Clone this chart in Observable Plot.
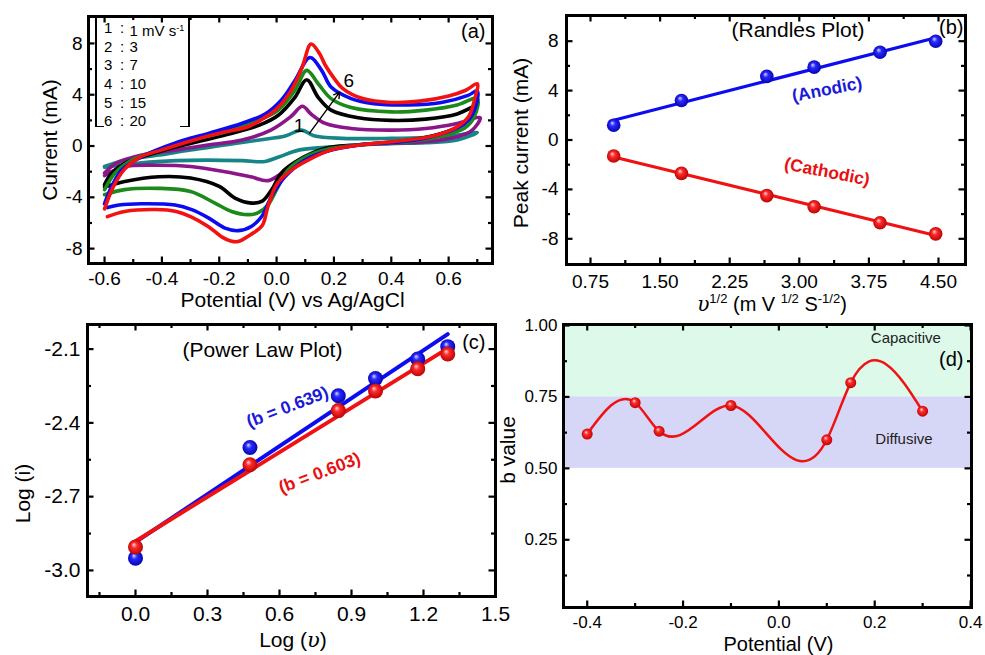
<!DOCTYPE html>
<html>
<head>
<meta charset="utf-8">
<script src="https://cdn.jsdelivr.net/npm/d3@7"></script>
<script src="https://cdn.jsdelivr.net/npm/@observablehq/plot@0.6"></script>
<style>
  html, body { margin: 0; padding: 0; background: #fff; }
  #fig { position: relative; width: 985px; height: 655px; overflow: hidden; background: #fff;
         font-family: "Liberation Sans", Arial, Helvetica, sans-serif; color: #000; }
  .panel { position: absolute; }
  .panel svg { overflow: visible; display: block; }
  .hl { position: absolute; text-align: center; white-space: nowrap; }
  .uv { font-family: "DejaVu Serif", "Liberation Serif", serif; font-style: italic; }
  .legrow { position: absolute; font-size: 15px; line-height: 16px; white-space: nowrap; }
  .legrow sup { font-size: 9px; vertical-align: 5px; }
</style>
</head>
<body>
<div id="fig"></div>
<script>
// ================= DATA =================
// (a) cyclic voltammograms: forward sweep followed by reverse sweep (V vs Ag/AgCl, mA)
const scanRates = [1, 3, 7, 10, 15, 20];            // mV s-1
const legendNumbers = ["1", "2", "3", "4", "5", "6"];

const cv1V = [-0.6,-0.53,-0.41,-0.3,-0.18,-0.06,0.03,0.087,0.13,0.23,0.4,0.52,0.63,0.7,
              0.63,0.52,0.4,0.29,0.17,0.08,0.01,-0.04,-0.12,-0.24,-0.35,-0.47,-0.6];
const cv1I = [-1.6,-1.1,-0.7,-0.3,0.08,0.47,0.78,1.24,0.8,0.6,0.6,0.67,0.85,1.05,
              0.47,0.26,0.2,0.08,-0.1,-0.3,-0.83,-1.2,-1.14,-1.1,-1.14,-1.3,-1.65];

const cv2V = [-0.6,-0.56,-0.47,-0.35,-0.24,-0.12,-0.02,0.05,0.09,0.12,0.17,0.26,0.4,0.52,0.63,0.71,
              0.68,0.63,0.52,0.4,0.29,0.17,0.08,0.02,-0.03,-0.09,-0.18,-0.3,-0.41,-0.53,-0.6];
const cv2I = [-2.1,-1.35,-0.7,-0.3,0.08,0.47,1.24,2.3,3.1,2.5,1.76,1.37,1.24,1.37,1.76,2.2,
              1.2,0.72,0.33,0.2,0.08,-0.44,-1.35,-2.1,-2.7,-2.4,-2.0,-1.6,-1.5,-1.6,-2.3];

const cv3V = [-0.6,-0.575,-0.53,-0.41,-0.3,-0.18,-0.06,0.006,0.064,0.105,0.145,0.19,0.285,0.4,0.52,0.63,0.7,
              0.697,0.656,0.575,0.46,0.285,0.168,0.076,0.017,-0.017,-0.05,-0.087,-0.145,-0.2,-0.3,-0.41,-0.53,-0.6];
const cv3I = [-3.0,-2.1,-1.35,-0.44,0.2,0.85,1.63,2.4,3.8,5.17,3.8,2.8,2.2,2.0,2.1,2.5,3.2,
              3.05,1.76,0.98,0.45,0.1,-0.2,-1.1,-2.1,-3.4,-4.3,-4.45,-4.06,-3.15,-2.5,-2.4,-2.77,-3.2];

const cv4V = [-0.6,-0.563,-0.505,-0.41,-0.3,-0.18,-0.064,0.006,0.064,0.105,0.145,0.19,0.26,0.4,0.52,0.63,0.7,
              0.69,0.656,0.575,0.46,0.285,0.168,0.1,0.04,0.0,-0.03,-0.064,-0.1,-0.157,-0.215,-0.3,-0.41,-0.53,-0.6];
const cv4I = [-3.4,-2.1,-1.1,-0.3,0.47,1.1,2.0,2.8,4.34,5.9,4.86,3.7,3.0,2.66,2.8,3.2,3.7,
              2.3,1.4,0.78,0.33,0.08,-0.3,-0.86,-1.86,-3.4,-4.6,-5.2,-5.35,-5.1,-4.45,-3.55,-3.3,-3.4,-3.8];

const cv5V = [-0.6,-0.575,-0.54,-0.47,-0.355,-0.238,-0.122,-0.04,0.017,0.064,0.116,0.157,0.19,0.26,0.34,0.46,0.575,0.668,0.7,
              0.69,0.656,0.517,0.4,0.285,0.168,0.099,0.029,-0.017,-0.052,-0.087,-0.133,-0.18,-0.238,-0.296,-0.354,-0.47,-0.55,-0.59];
const cv5I = [-4.5,-3.15,-1.86,-0.83,0.23,0.98,1.76,2.5,3.6,5.1,6.9,5.9,4.6,3.7,3.3,3.2,3.4,3.95,4.3,
              2.8,1.76,0.6,0.27,0.08,-0.44,-1.1,-2.4,-3.9,-5.5,-6.25,-6.6,-6.4,-5.6,-4.96,-4.6,-4.5,-4.6,-4.8];

const cv6V = [-0.6,-0.57,-0.53,-0.48,-0.4,-0.3,-0.2,-0.1,-0.05,0.0,0.05,0.09,0.12,0.15,0.17,0.2,0.23,0.3,0.4,0.5,0.6,0.66,0.7,
              0.69,0.67,0.63,0.58,0.52,0.4,0.29,0.19,0.11,0.05,0.0,-0.03,-0.05,-0.09,-0.135,-0.16,-0.19,-0.24,-0.3,-0.35,-0.42,-0.53,-0.59];
const cv6I = [-4.9,-3.2,-1.8,-0.9,-0.3,0.4,1.0,1.5,2.1,2.9,4.3,6.2,7.95,7.2,6.3,5.3,4.5,3.7,3.4,3.5,3.9,4.35,4.85,
              3.6,2.3,1.5,1.0,0.67,0.33,0.08,-0.3,-1.1,-1.9,-3.0,-4.7,-6.2,-6.9,-7.45,-7.4,-7.1,-6.25,-5.5,-5.1,-4.95,-5.1,-5.5];

// arrow "1 -> 6" annotation (data coordinates) and its end labels
const cvArrowFrom = [0.115, 1.0];
const cvArrowTo = [0.22, 4.2];
const cvArrowText = ["1", "6"];
const cvArrowTextV = [0.078, 0.252];
const cvArrowTextI = [1.6, 5.05];

// (b) Randles plot
const sqrtScanRate = [1.0, 1.73, 2.65, 3.16, 3.87, 4.47];
const anodicPeak = [1.2, 3.2, 5.15, 5.9, 7.1, 8.0];
const cathodicPeak = [-1.3, -2.7, -4.5, -5.4, -6.7, -7.6];

// (c) power law plot
const logScanRate = [0, 0.477, 0.845, 1.0, 1.176, 1.301];
const logAnodic = [-2.95, -2.50, -2.29, -2.22, -2.14, -2.09];
const logCathodic = [-2.905, -2.57, -2.35, -2.27, -2.18, -2.12];
const slopeText = ["(b = 0.639)", "(b = 0.603)"];

// (d) b value vs potential
const potentialD = [-0.4, -0.3, -0.25, -0.1, 0.1, 0.15, 0.3];
const bValue = [0.62, 0.73, 0.63, 0.72, 0.60, 0.80, 0.70];
const regionName = ["Capacitive", "Diffusive"];
const regionLow = [0.75, 0.5];
const regionHigh = [1.0, 0.75];

// tick values
const xMajorA = [-0.6,-0.4,-0.2,0,0.2,0.4,0.6], xMinorA = [-0.5,-0.3,-0.1,0.1,0.3,0.5,0.7];
const yMajorA = [-8,-4,0,4,8], yMinorA = [-6,-2,2,6];
const xMajorB = [0.75,1.5,2.25,3.0,3.75,4.5], xMinorB = [1.125,1.875,2.625,3.375,4.125];
const yMajorB = [-8,-4,0,4,8], yMinorB = [-6,-2,2,6];
const xMajorC = [0,0.3,0.6,0.9,1.2,1.5], xMinorC = [-0.15,0.15,0.45,0.75,1.05,1.35];
const yMajorC = [-3.0,-2.7,-2.4,-2.1], yMinorC = [-2.85,-2.55,-2.25];
const xMajorD = [-0.4,-0.2,0,0.2,0.4], xMinorD = [-0.3,-0.1,0.1,0.3];
const yMajorD = [0.25,0.5,0.75,1.0], yMinorD = [0.125,0.375,0.625,0.875];

// ================= STYLE / HELPERS =================
const FONT = '"Liberation Sans", Arial, Helvetica, sans-serif';
const cvColors = ["#168585", "#8a168a", "#000000", "#1b8a1b", "#0b0bf2", "#f21212"];
const BLUE = "#0c0cf0", RED = "#f01212";
const fmt = f => d => d3.format(f)(d).replace("\u2212", "-");
const fig = document.getElementById("fig");

// d3-style curve: natural cubic spline of y as a function of x (as in the original spline plot)
function curveNaturalYofX(context) {
  let xs, ys;
  return {
    areaStart() {}, areaEnd() {},
    lineStart() { xs = []; ys = []; },
    point(x, y) { xs.push(+x); ys.push(+y); },
    lineEnd() {
      const n = xs.length - 1;
      if (n < 0) return;
      context.moveTo(xs[0], ys[0]);
      if (n === 0) return;
      const h = [];
      for (let i = 0; i < n; i++) h.push(xs[i + 1] - xs[i]);
      const M = new Array(n + 1).fill(0);
      if (n > 1) {
        const a = [], b = [], c = [], r = [];
        for (let i = 1; i < n; i++) {
          a.push(h[i - 1]); b.push(2 * (h[i - 1] + h[i])); c.push(h[i]);
          r.push(6 * ((ys[i + 1] - ys[i]) / h[i] - (ys[i] - ys[i - 1]) / h[i - 1]));
        }
        const m = b.length;
        for (let i = 1; i < m; i++) { const w = a[i] / b[i - 1]; b[i] -= w * c[i - 1]; r[i] -= w * r[i - 1]; }
        const sol = new Array(m);
        sol[m - 1] = r[m - 1] / b[m - 1];
        for (let i = m - 2; i >= 0; i--) sol[i] = (r[i] - c[i] * sol[i + 1]) / b[i];
        for (let i = 1; i < n; i++) M[i] = sol[i - 1];
      }
      for (let i = 0; i < n; i++) {
        const hi = h[i], s = (ys[i + 1] - ys[i]) / hi;
        const d0 = s - hi * (2 * M[i] + M[i + 1]) / 6;
        const d1 = s + hi * (M[i] + 2 * M[i + 1]) / 6;
        context.bezierCurveTo(xs[i] + hi / 3, ys[i] + d0 * hi / 3, xs[i + 1] - hi / 3, ys[i + 1] - d1 * hi / 3, xs[i + 1], ys[i + 1]);
      }
    }
  };
}

function place(node, left, top) {
  const d = document.createElement("div");
  d.className = "panel";
  d.style.left = left + "px";
  d.style.top = top + "px";
  d.appendChild(node);
  fig.appendChild(d);
}
function boxTicks(xMajor, xMinor, yMajor, yMinor, iw, ih) {
  const st = {stroke: "black", strokeWidth: 2.2};
  const out = [];
  for (const [v, L] of [[xMajor, 6.5], [xMinor, 4]]) {
    out.push(Plot.tickX(v, {...st, x: d => d, insetTop: ih - L}));
    out.push(Plot.tickX(v, {...st, x: d => d, insetBottom: ih - L}));
  }
  for (const [v, L] of [[yMajor, 6.5], [yMinor, 4]]) {
    out.push(Plot.tickY(v, {...st, y: d => d, insetRight: iw - L}));
    out.push(Plot.tickY(v, {...st, y: d => d, insetLeft: iw - L}));
  }
  return out;
}
function ballDefs(id, light, mid, dark) {
  return () => {
    const defs = d3.create("svg:defs");
    const g = defs.append("radialGradient").attr("id", id)
      .attr("cx", "0.5").attr("cy", "0.5").attr("r", "0.55").attr("fx", "0.38").attr("fy", "0.32");
    g.append("stop").attr("offset", "0%").attr("stop-color", light);
    g.append("stop").attr("offset", "35%").attr("stop-color", mid);
    g.append("stop").attr("offset", "100%").attr("stop-color", dark);
    return defs.node();
  };
}
function yLabel(text, dx, dy, fs) {
  return Plot.text([text], {text: d => d, frameAnchor: "left", rotate: -90, textAnchor: "middle",
    lineAnchor: "middle", dx, dy, fontSize: fs});
}
function xLabel(text, dx, dy, fs) {
  return Plot.text([text], {text: d => d, frameAnchor: "bottom", textAnchor: "middle",
    lineAnchor: "middle", dx, dy, fontSize: fs});
}
function cornerText(text, anchor, dx, dy, fs) {
  return Plot.text([text], {text: d => d, frameAnchor: anchor, lineAnchor: "middle",
    textAnchor: anchor === "top-right" ? "end" : "middle", dx, dy, fontSize: fs});
}

// ================= PANEL (a) =================
{
  const W = 495, H = 310, ml = 88, mr = 3, mt = 16, mb = 47;
  const iw = W - ml - mr, ih = H - mt - mb;
  const curves = [[cv1V, cv1I], [cv2V, cv2I], [cv3V, cv3I], [cv4V, cv4I], [cv5V, cv5I], [cv6V, cv6I]];
  const cvMarks = curves.map(([V, I], k) =>
    Plot.line(d3.zip(V, I), {x: d => d[0], y: d => d[1], stroke: cvColors[k], strokeWidth: 3.6,
      curve: "catmull-rom", strokeLinejoin: "round"}));
  const arrowData = [{x1: cvArrowFrom[0], y1: cvArrowFrom[1], x2: cvArrowTo[0], y2: cvArrowTo[1]}];
  const arrowLabels = cvArrowText.map((t, i) => ({t, x: cvArrowTextV[i], y: cvArrowTextI[i]}));
  const p = Plot.plot({
    width: W, height: H, marginLeft: ml, marginRight: mr, marginTop: mt, marginBottom: mb,
    x: {domain: [-0.656, 0.753]},
    y: {domain: [-9.16, 10.1]},
    style: {fontFamily: FONT, fontSize: "19px", color: "black", background: "transparent"},
    marks: [
      ...cvMarks,
      Plot.arrow(arrowData, {x1: "x1", y1: "y1", x2: "x2", y2: "y2", stroke: "black", strokeWidth: 1.4, headLength: 7}),
      Plot.text(arrowLabels, {x: "x", y: "y", text: "t", fontSize: 19}),
      cornerText("(a)", "top-right", -7, 15, 20),
      ...boxTicks(xMajorA, xMinorA, yMajorA, yMinorA, iw, ih),
      Plot.axisX({ticks: xMajorA, tickSize: 0, tickPadding: 8, tickFormat: fmt(".1f"), label: null}),
      Plot.axisY({ticks: yMajorA, tickSize: 0, tickPadding: 6, tickFormat: fmt("d"), label: null}),
      xLabel("Potential (V) vs Ag/AgCl", 2, 37, 21),
      yLabel("Current (mA)", -38, 0, 21),
      Plot.frame({stroke: "black", strokeWidth: 3})
    ]
  });
  place(p, 0, 0);

  // legend (bracketed list of scan rates)
  const lb = document.createElement("div");
  lb.style.cssText = "position:absolute;left:95px;top:16px;width:7px;height:110px;border-left:2px solid #000;border-bottom:1.5px solid #000;";
  fig.appendChild(lb);
  const rb = document.createElement("div");
  rb.style.cssText = "position:absolute;left:180px;top:16px;width:8px;height:110px;border-right:2px solid #000;border-bottom:1.5px solid #000;";
  fig.appendChild(rb);
  legendNumbers.forEach((n, i) => {
    const top = 28.3 + i * 18.7 - 8.5;
    const mk = (left, html) => {
      const s = document.createElement("div");
      s.className = "legrow";
      s.style.left = left + "px";
      s.style.top = top + "px";
      s.innerHTML = html;
      fig.appendChild(s);
    };
    mk(104, n);
    mk(120, ":");
    mk(129.5, i === 0 ? scanRates[i] + " mV s<sup>-1</sup>" : String(scanRates[i]));
  });
}

// ================= PANEL (b) =================
{
  const W = 490, H = 310, ml = 71, mr = 20, mt = 15, mb = 46;
  const iw = W - ml - mr, ih = H - mt - mb;
  const an = sqrtScanRate.map((x, i) => ({x, y: anodicPeak[i]}));
  const ca = sqrtScanRate.map((x, i) => ({x, y: cathodicPeak[i]}));
  const p = Plot.plot({
    width: W, height: H, marginLeft: ml, marginRight: mr, marginTop: mt, marginBottom: mb,
    x: {domain: [0.4914, 4.791]},
    y: {domain: [-10.08, 10.08]},
    style: {fontFamily: FONT, fontSize: "19px", color: "black", background: "transparent"},
    marks: [
      ballDefs("ballBlueB", "#d8d8ff", "#2a2aff", "#0000a8"),
      ballDefs("ballRedB", "#ffd8d8", "#ff2a2a", "#b00000"),
      Plot.linearRegressionY(an, {x: "x", y: "y", stroke: BLUE, strokeWidth: 3.2, ci: 0}),
      Plot.linearRegressionY(ca, {x: "x", y: "y", stroke: RED, strokeWidth: 3.2, ci: 0}),
      Plot.dot(an, {x: "x", y: "y", r: 6.8, fill: "url(#ballBlueB)", stroke: null}),
      Plot.dot(ca, {x: "x", y: "y", r: 6.8, fill: "url(#ballRedB)", stroke: null}),
      Plot.text(["(Anodic)"], {text: d => d, x: 3.30, y: 4.09, rotate: -11, fill: "#1a1ad8", fontWeight: "bold", fontSize: 17.5}),
      Plot.text(["(Cathodic)"], {text: d => d, x: 3.30, y: -2.58, rotate: 11, fill: "#e81010", fontWeight: "bold", fontSize: 17.5}),
      cornerText("(Randles Plot)", "top", 32, 15, 21),
      cornerText("(b)", "top-right", -2, 12, 20),
      ...boxTicks(xMajorB, xMinorB, yMajorB, yMinorB, iw, ih),
      Plot.axisX({ticks: xMajorB, tickSize: 0, tickPadding: 10, tickFormat: fmt(".2f"), label: null}),
      Plot.axisY({ticks: yMajorB, tickSize: 0, tickPadding: 8, tickFormat: fmt("d"), label: null}),
      yLabel("Peak current (mA)", -45, 3, 21),
      Plot.frame({stroke: "black", strokeWidth: 3})
    ]
  });
  place(p, 495, 0);
  const lab = document.createElement("div");
  lab.className = "hl";
  lab.style.cssText += "left:572px;top:287px;width:400px;font-size:20px;line-height:24px;";
  lab.innerHTML = '<span class="uv">υ</span><sup style="font-size:13px">1/2</sup> (m V <sup style="font-size:13px">1/2</sup> S<sup style="font-size:13px">-1/2</sup>)';
  fig.appendChild(lab);
}

// ================= PANEL (c) =================
{
  const W = 497, H = 345, ml = 87, mr = 2, mt = 14, mb = 59;
  const iw = W - ml - mr, ih = H - mt - mb;
  const an = logScanRate.map((x, i) => ({x, y: logAnodic[i]}));
  const ca = logScanRate.map((x, i) => ({x, y: logCathodic[i]}));
  const p = Plot.plot({
    width: W, height: H, marginLeft: ml, marginRight: mr, marginTop: mt, marginBottom: mb,
    x: {domain: [-0.2, 1.5]},
    y: {domain: [-3.106, -2.0]},
    style: {fontFamily: FONT, fontSize: "21px", color: "black", background: "transparent"},
    marks: [
      ballDefs("ballBlueC", "#d8d8ff", "#2a2aff", "#0000a8"),
      ballDefs("ballRedC", "#ffd8d8", "#ff2a2a", "#b00000"),
      Plot.linearRegressionY(an, {x: "x", y: "y", stroke: BLUE, strokeWidth: 4, ci: 0}),
      Plot.linearRegressionY(ca, {x: "x", y: "y", stroke: RED, strokeWidth: 4, ci: 0}),
      Plot.dot(an, {x: "x", y: "y", r: 7.5, fill: "url(#ballBlueC)", stroke: null}),
      Plot.dot(ca, {x: "x", y: "y", r: 7.5, fill: "url(#ballRedC)", stroke: null}),
      Plot.text([slopeText[0]], {text: d => d, x: 0.633, y: -2.336, rotate: -21, fill: "#1a1ad8", fontWeight: "bold", fontSize: 17.5}),
      Plot.text([slopeText[1]], {text: d => d, x: 0.767, y: -2.604, rotate: -21, fill: "#e81010", fontWeight: "bold", fontSize: 17.5}),
      cornerText("(Power Law Plot)", "top", -29, 26, 21),
      cornerText("(c)", "top-right", -10, 18, 20),
      ...boxTicks(xMajorC.filter(v => v < 1.5), xMinorC, yMajorC, yMinorC, iw, ih),
      Plot.axisX({ticks: xMajorC, tickSize: 0, tickPadding: 10, tickFormat: fmt(".1f"), label: null}),
      Plot.axisY({ticks: yMajorC, tickSize: 0, tickPadding: 7, tickFormat: fmt(".1f"), label: null}),
      yLabel("Log (i)", -64, 33, 21),
      Plot.frame({stroke: "black", strokeWidth: 3})
    ]
  });
  place(p, 0, 310);
  const lab = document.createElement("div");
  lab.className = "hl";
  lab.style.cssText += "left:93px;top:627px;width:400px;font-size:21px;line-height:26px;";
  lab.innerHTML = 'Log (<span class="uv">υ</span>)';
  fig.appendChild(lab);
}

// ================= PANEL (d) =================
{
  const W = 490, H = 345, ml = 68, mr = 14, mt = 14, mb = 48;
  const iw = W - ml - mr, ih = H - mt - mb;
  const pts = potentialD.map((x, i) => ({x, y: bValue[i]}));
  const regions = regionName.map((name, i) => ({name, lo: regionLow[i], hi: regionHigh[i]}));
  const xDom = [-0.4495, 0.402];
  const p = Plot.plot({
    width: W, height: H, marginLeft: ml, marginRight: mr, marginTop: mt, marginBottom: mb,
    x: {domain: xDom},
    y: {domain: [0.013, 1.0035]},
    style: {fontFamily: FONT, fontSize: "17px", color: "black", background: "transparent"},
    marks: [
      ballDefs("ballRedD", "#ffe0e0", "#ff2a2a", "#b80000"),
      Plot.rect(regions, {x1: xDom[0], x2: xDom[1], y1: "lo", y2: "hi", fill: (d, i) => i === 0 ? "#dcf9ea" : "#d6d6f7"}),
      Plot.text(regions, {text: "name", x: [0.265, 0.261], y: [0.955, 0.603], fontSize: 15, fill: "#222"}),
      Plot.line(pts, {x: "x", y: "y", stroke: RED, strokeWidth: 2.5, curve: curveNaturalYofX}),
      Plot.dot(pts, {x: "x", y: "y", r: 5.5, fill: "url(#ballRedD)", stroke: null}),
      cornerText("(d)", "top-right", -8, 35, 20),
      ...boxTicks(xMajorD, xMinorD, yMajorD, yMinorD, iw, ih),
      Plot.axisX({ticks: xMajorD, tickSize: 0, tickPadding: 8, tickFormat: fmt(".1f"), label: null}),
      Plot.axisY({ticks: yMajorD, tickSize: 0, tickPadding: 6, tickFormat: fmt(".2f"), label: null}),
      xLabel("Potential (V)", 11, 37, 20),
      yLabel("b value", -55, -16, 21),
      Plot.frame({stroke: "black", strokeWidth: 3})
    ]
  });
  place(p, 495, 310);
}
</script>
</body>
</html>
